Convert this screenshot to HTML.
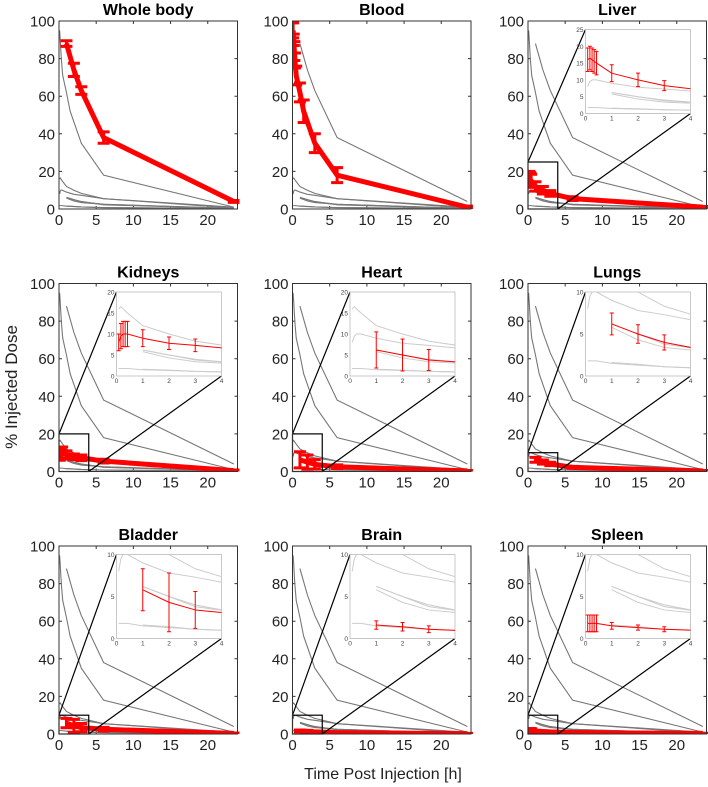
<!DOCTYPE html>
<html><head><meta charset="utf-8"><style>
html,body{margin:0;padding:0;background:#fff;}
svg{display:block;font-family:"Liberation Sans",Arial,sans-serif;}
</style></head><body>
<svg id="fig" width="708" height="787" viewBox="0 0 708 787">
<text x="383" y="779" text-anchor="middle" font-size="16" fill="#222">Time Post Injection [h]</text>
<text transform="translate(17,387) rotate(-90)" text-anchor="middle" font-size="17" fill="#222">% Injected Dose</text>
</svg>
<script>
const organNames = ["Whole body","Blood","Liver","Kidneys","Heart","Lungs","Bladder","Brain","Spleen"];
const tEarly = [0.083,0.167,0.25,0.33,0.42,1,2,3,6,23.5];
const tLate = [1,2,3,6,23.5];
const tBlood = [0.083,0.167,0.25,0.33,0.5,1,1.5,3,6,23.5];
const wbMean = [88,74,63,38,4];
const wbErr = [1.5,3.5,2,3,0.5];
const bloodMean = [95,90,84,79,71,62,52,35,18,1];
const bloodErr = [4,3,5,4,5,5,6,5,4,0.5];
const liverMean = [16,16.5,16,15.5,15,12,10,8.3,5.5,1];
const liverErr = [3.5,3.5,3.5,3.5,3.5,2.5,2,1.5,1,0.3];
const kidneyMean = [8,9.5,10,10,10,9,7.8,7.3,5.5,0.5];
const kidneyErr = [2,3,3,3,3,2,1.5,1.5,1,0.3];
const heartMean = [6.2,5,3.8,2.5,0.3];
const heartErr = [4.3,3.8,2.5,1,0.2];
const lungMean = [6.2,5,4,2.2,0.3];
const lungErr = [1.3,1.1,0.9,0.5,0.2];
const bladderMean = [5.8,4.3,3.4,2.5,0.3];
const bladderErr = [2.5,3.5,2.2,1,0.2];
const brainMean = [1.6,1.4,1.1,0.7,0.2];
const brainErr = [0.5,0.5,0.4,0.2,0.1];
const spleenMean = [1.8,1.8,1.8,1.8,1.8,1.5,1.3,1.1,0.8,0.3];
const spleenErr = [1,1,1,1,1,0.4,0.3,0.3,0.2,0.1];
const insetYMax = [0,0,25,20,20,10,10,10,10];
const xTicks = [0,5,10,15,20];
const yTicks = [0,20,40,60,80,100];
const insetXTicks = [0,1,2,3,4];

const series = [
 {t:tLate,m:wbMean,e:wbErr},{t:tBlood,m:bloodMean,e:bloodErr},{t:tEarly,m:liverMean,e:liverErr},
 {t:tEarly,m:kidneyMean,e:kidneyErr},{t:tLate,m:heartMean,e:heartErr},{t:tLate,m:lungMean,e:lungErr},
 {t:tLate,m:bladderMean,e:bladderErr},{t:tLate,m:brainMean,e:brainErr},{t:tEarly,m:spleenMean,e:spleenErr}];

const NS="http://www.w3.org/2000/svg";
const svg=document.getElementById('fig');
function el(tag,attrs,parent){const e=document.createElementNS(NS,tag);for(const k in attrs)e.setAttribute(k,attrs[k]);(parent||svg).appendChild(e);return e;}
const colL=[59,292.5,528], rowT=[21,283.5,546], W=178.5, H=188;
const slug=s=>s.toLowerCase().replace(/ /g,'-');

function drawLines(g,sx,sy,idx,grayCol,grayW,redW,capW,capH,clip){
  series.forEach((s,j)=>{
    if(j===idx) return;
    const pts=s.t.map((t,k)=>sx(t)+','+sy(s.m[k])).join(' ');
    const pl=el('polyline',{points:pts,fill:'none',stroke:grayCol,'stroke-width':grayW,'clip-path':clip},g);
    
    
  });
  const s=series[idx];
  const pts=s.t.map((t,k)=>sx(t)+','+sy(s.m[k])).join(' ');
  const pl=el('polyline',{points:pts,fill:'none',stroke:'#f00','stroke-width':redW,'clip-path':clip,'stroke-linejoin':'round'},g);
  
  
  s.t.forEach((t,k)=>{
    const x=sx(t),y1=sy(s.m[k]-s.e[k]),y2=sy(s.m[k]+s.e[k]);
    const eb=el('path',{d:`M${x},${y1}V${y2}M${x-capW},${y1}H${x+capW}M${x-capW},${y2}H${x+capW}`,stroke:'#f00','stroke-width':capH,fill:'none','clip-path':clip},g);
    
    
  });
}

organNames.forEach((name,i)=>{
  const L=colL[i%3],T=rowT[Math.floor(i/3)];
  const g=el('g',{});
  
  
  const sx=t=>L+t/24*W, sy=v=>T+H-v/100*H;
  const cp=el('clipPath',{id:'c'+i},g);
  el('rect',{x:L,y:T-6,width:W+2,height:H+6},cp);
  const tt=el('text',{x:L+W/2,y:T-6,'text-anchor':'middle','font-size':16,'font-weight':'bold',fill:'#000'},g);
  tt.textContent=name;
  
  
  xTicks.forEach(v=>{
    const x=sx(v);
    el('path',{d:`M${x},${T+H}v-3M${x},${T}v3`,stroke:'#333','stroke-width':1},g);
    const t=el('text',{x:x,y:T+H+16,'text-anchor':'middle','font-size':15,fill:'#222'},g);t.textContent=v;
    
    
  });
  yTicks.forEach(v=>{
    const y=sy(v);
    el('path',{d:`M${L},${y}h3M${L+W},${y}h-3`,stroke:'#333','stroke-width':1},g);
    const t=el('text',{x:L-4,y:y+5.5,'text-anchor':'end','font-size':15,fill:'#222'},g);t.textContent=v;
    
    
  });
  drawLines(g,sx,sy,i,'#777',1.1,5,6,3,'url(#c'+i+')');
  const ym=insetYMax[i];
  if(ym>0){
    const iL=L+57.5,iT=T+8.5,iW=105,iH=84;
    const zr=el('rect',{x:sx(0),y:sy(ym),width:sx(4)-sx(0),height:sy(0)-sy(ym),fill:'none',stroke:'#000','stroke-width':1.2},g);
    
    
    el('path',{d:`M${sx(0)},${sy(ym)}L${iL},${iT}M${sx(4)},${sy(0)}L${iL+iW},${iT+iH}`,stroke:'#000','stroke-width':1.2},g);
    const ig=el('g',{},g);
    
    
    el('rect',{x:iL,y:iT,width:iW,height:iH,fill:'#fff',stroke:'#bbb','stroke-width':0.8},ig);
    const icp=el('clipPath',{id:'ci'+i},ig);
    el('rect',{x:iL,y:iT,width:iW,height:iH},icp);
    const ix=t=>iL+t/4*iW, iy=v=>iT+iH-v/ym*iH;
    drawLines(ig,ix,iy,i,'#ccc',1,1,2,1,'url(#ci'+i+')');
    insetXTicks.forEach(v=>{
      const t=el('text',{x:ix(v),y:iT+iH+7,'text-anchor':'middle','font-size':6.5,fill:'#444'},ig);t.textContent=v;
      
      
    });
    for(let v=0;v<=ym;v+=5){
      const t=el('text',{x:iL-2,y:iy(v)+2.5,'text-anchor':'end','font-size':6.5,fill:'#444'},ig);t.textContent=v;
      
      
    }
  }
  const fr=el('rect',{x:L,y:T,width:W,height:H,fill:'none',stroke:'#333','stroke-width':1},g);
  
  
});
</script>
</body></html>
